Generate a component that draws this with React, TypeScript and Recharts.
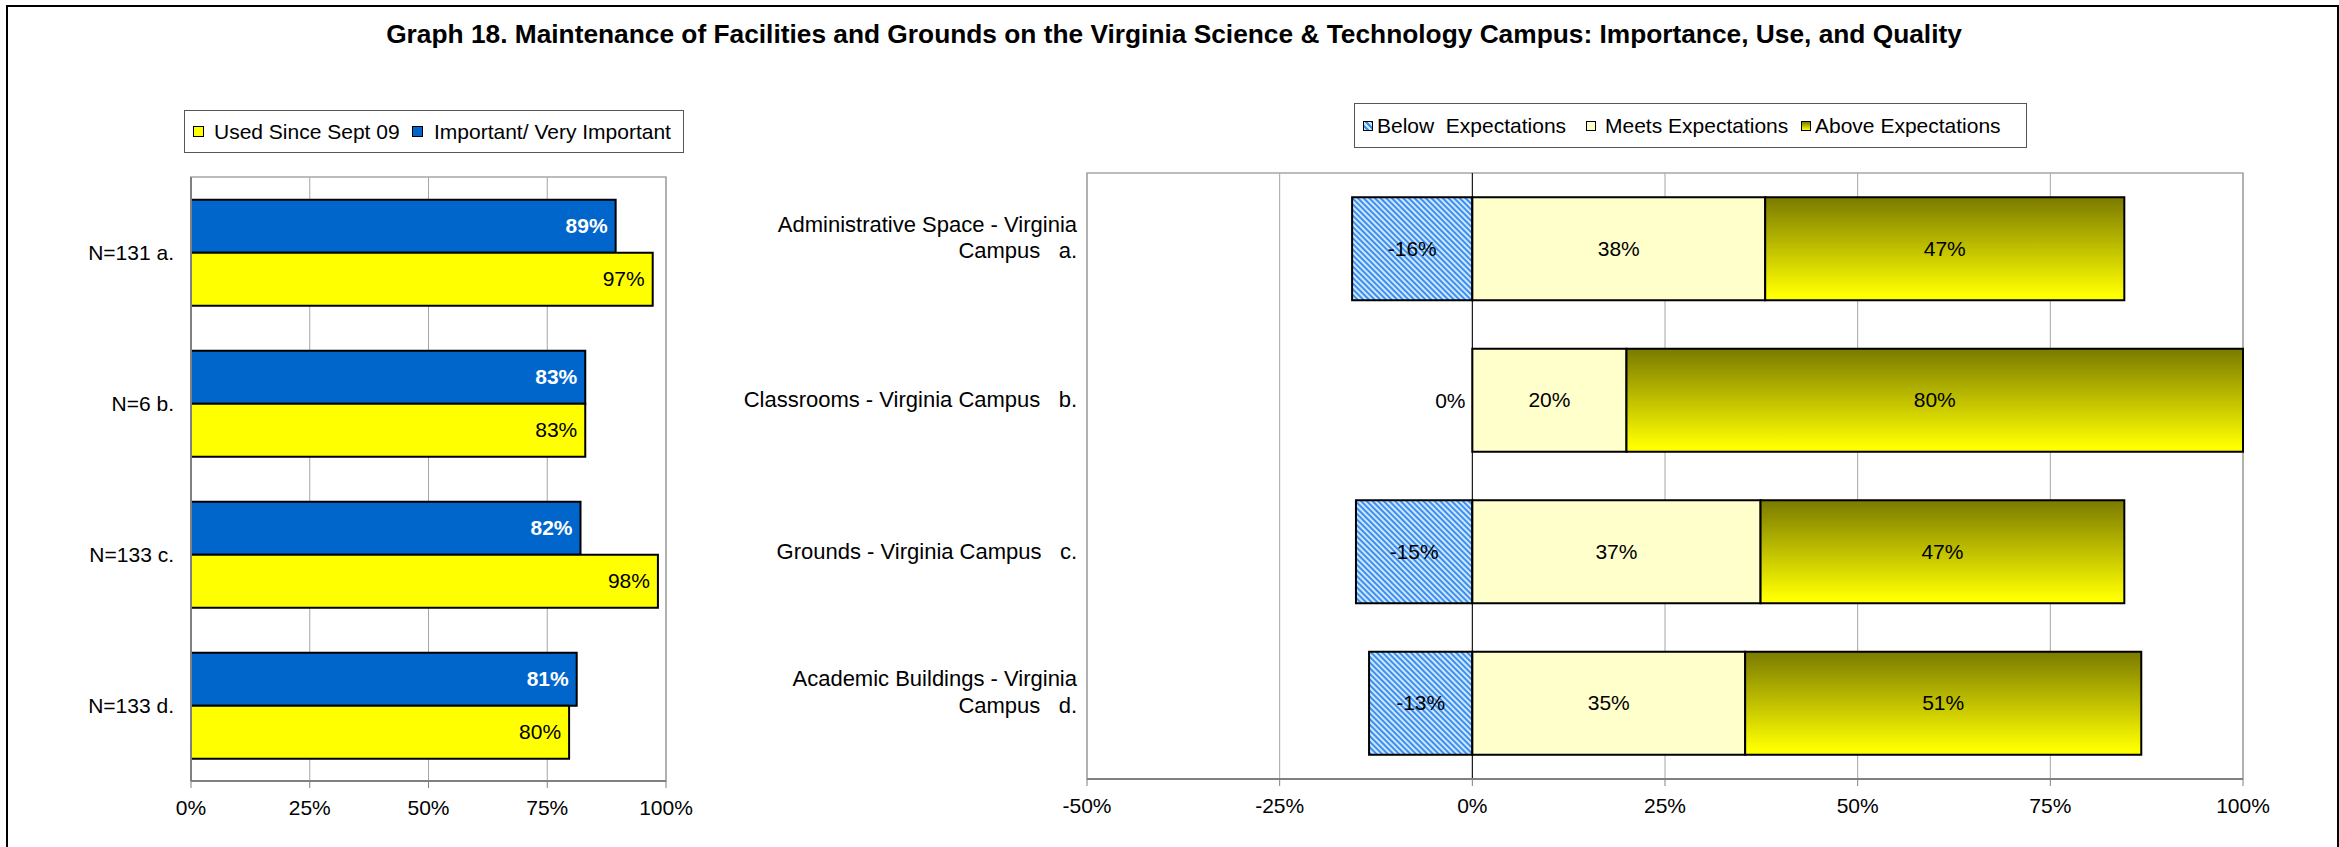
import { BarChart, Bar, XAxis, YAxis, CartesianGrid, LabelList, ReferenceLine, ReferenceArea } from 'recharts'

const FONT = '"Liberation Sans", Arial, sans-serif'

// Importance & use (left chart)
const useCategories = ['N=131 a.', 'N=6 b.', 'N=133 c.', 'N=133 d.']
const importantVeryImportant = [89.4, 83, 82, 81.2]
const usedSinceSept09 = [97.2, 83, 98.3, 79.6]
const useTicks = [0, 25, 50, 75, 100]

// Quality (right chart)
const qualityCategories = [
  'Administrative Space - Virginia\nCampus   a.',
  'Classrooms - Virginia Campus   b.',
  'Grounds - Virginia Campus   c.',
  'Academic Buildings - Virginia\nCampus   d.',
]
const belowExpectations = [-15.6, 0, -15.1, -13.4]
const meetsExpectations = [38, 20, 37.4, 35.4]
const aboveExpectations = [46.6, 80, 47.2, 51.4]
const qualityTicks = [-50, -25, 0, 25, 50, 75, 100]

const useData = useCategories.map((name, i) => ({
  name,
  important: importantVeryImportant[i],
  used: usedSinceSept09[i],
}))

const qualityData = qualityCategories.map((name, i) => ({
  name,
  below: belowExpectations[i],
  meets: meetsExpectations[i],
  above: aboveExpectations[i],
}))

const pct = (v: number) => `${Math.round(v)}%`

const XTick = ({ x, y, payload }: any) => (
  <text x={x} y={y + 27} textAnchor="middle" fontSize={21} fill="#000" fontFamily={FONT}>
    {pct(payload.value)}
  </text>
)

const UseYTick = ({ x, y, payload }: any) => (
  <text x={x - 17} y={y + 7} textAnchor="end" fontSize={21} fill="#000" fontFamily={FONT}>
    {payload.value}
  </text>
)

const QualityYTick = ({ x, y, payload }: any) => {
  const lines = String(payload.value).split('\n')
  const offsets = lines.length === 1 ? [7] : [-17, 9.5]
  return (
    <text textAnchor="end" fontSize={22} fill="#000" fontFamily={FONT} style={{ whiteSpace: 'pre' }}>
      {lines.map((l, i) => (
        <tspan key={i} x={x - 10} y={y + offsets[i]}>{l}</tspan>
      ))}
    </text>
  )
}

const endLabel = (color: string, bold: boolean) => (p: any) => {
  const { x, y, width, height, value } = p
  return (
    <text
      x={x + width - 8}
      y={y + height / 2 + 7}
      textAnchor="end"
      fontSize={21}
      fontWeight={bold ? 'bold' : 'normal'}
      fill={color}
      fontFamily={FONT}
    >
      {pct(value)}
    </text>
  )
}

const centerLabel = (p: any) => {
  const { x, y, width, height, value } = p
  if (value === 0) return null
  return (
    <text x={x + width / 2} y={y + height / 2 + 7} textAnchor="middle" fontSize={21} fill="#000" fontFamily={FONT}>
      {pct(value)}
    </text>
  )
}

// "below" rows with a zero value get their label drawn left of the zero line, like the original
const zeroLabel = (p: any) => {
  const { x, y, height, value } = p
  if (value !== 0) return null
  return (
    <text x={x - 22} y={y + height / 2 + 8} textAnchor="middle" fontSize={21} fill="#000" fontFamily={FONT}>
      {pct(value)}
    </text>
  )
}

const Swatch = ({ left, fill, size = 11 }: { left: number; fill: string; size?: number }) => (
  <div
    style={{
      position: 'absolute',
      left,
      top: '50%',
      width: size,
      height: size,
      marginTop: -size / 2,
      background: fill,
      border: '1.5px solid #000',
      boxSizing: 'border-box',
    }}
  />
)

const LegendText = ({ left, children }: { left: number; children: string }) => (
  <div
    style={{
      position: 'absolute',
      left,
      top: 0,
      height: '100%',
      display: 'flex',
      alignItems: 'center',
      fontSize: 21,
      whiteSpace: 'pre',
    }}
  >
    {children}
  </div>
)

export default function App() {
  return (
    <div
      style={{
        position: 'absolute',
        left: 0,
        top: 0,
        width: 2339,
        height: 847,
        background: '#fff',
        fontFamily: FONT,
        overflow: 'hidden',
      }}
    >
      <div
        style={{
          position: 'absolute',
          left: 6,
          top: 5,
          width: 2333,
          height: 880,
          border: '2px solid #000',
          boxSizing: 'border-box',
        }}
      />
      <div
        style={{
          position: 'absolute',
          left: 0,
          top: 21,
          width: 2348,
          textAlign: 'center',
          fontSize: 26.3,
          lineHeight: '26px',
          fontWeight: 'bold',
        }}
      >
        Graph 18. Maintenance of Facilities and Grounds on the Virginia Science &amp; Technology Campus: Importance, Use, and Quality
      </div>

      {/* left legend */}
      <div
        style={{
          position: 'absolute',
          left: 184,
          top: 110,
          width: 500,
          height: 43,
          border: '1px solid #555',
          boxSizing: 'border-box',
        }}
      >
        <Swatch left={8} fill="#FFFF00" />
        <LegendText left={29}>Used Since Sept 09</LegendText>
        <Swatch left={227} fill="#0066CC" />
        <LegendText left={249}>Important/ Very Important</LegendText>
      </div>

      {/* right legend */}
      <div
        style={{
          position: 'absolute',
          left: 1354,
          top: 103,
          width: 673,
          height: 45,
          border: '1px solid #555',
          boxSizing: 'border-box',
        }}
      >
        <div
          style={{
            position: 'absolute',
            left: 8,
            top: '50%',
            width: 10,
            height: 10,
            marginTop: -5,
            border: '1.5px solid #000',
            boxSizing: 'border-box',
            background: 'repeating-linear-gradient(45deg, #cfe8ff 0px, #cfe8ff 2px, #3d8fef 2px, #3d8fef 4px)',
          }}
        />
        <LegendText left={22}>Below  Expectations</LegendText>
        <Swatch left={231} fill="#FFFFCC" size={10} />
        <LegendText left={250}>Meets Expectations</LegendText>
        <Swatch left={446} fill="linear-gradient(#7d7d00, #ffff00)" size={10} />
        <LegendText left={460}>Above Expectations</LegendText>
      </div>

      {/* left chart */}
      <div style={{ position: 'absolute', left: 0, top: 0 }}>
        <BarChart
          width={720}
          height={847}
          data={useData}
          layout="vertical"
          margin={{ top: 177, right: 54, bottom: 0, left: 0 }}
          barCategoryGap="15%"
          barGap={0}
        >
          <CartesianGrid horizontal={false} vertical stroke="#a6a6a6" />
          <ReferenceArea x1={0} x2={100} fill="none" stroke="#a6a6a6" strokeWidth={1.5} ifOverflow="visible" />
          <XAxis
            type="number"
            domain={[0, 100]}
            ticks={useTicks}
            height={66}
            tickSize={7}
            tickMargin={0}
            axisLine={{ stroke: '#808080', strokeWidth: 2 }}
            tickLine={{ stroke: '#808080' }}
            tick={<XTick />}
          />
          <YAxis
            type="category"
            dataKey="name"
            width={191}
            tickSize={0}
            tickMargin={0}
            axisLine={{ stroke: '#808080', strokeWidth: 2 }}
            tickLine={false}
            tick={<UseYTick />}
            interval={0}
          />
          <Bar dataKey="important" fill="#0066CC" stroke="#000" strokeWidth={2} isAnimationActive={false}>
            <LabelList dataKey="important" content={endLabel('#fff', true)} />
          </Bar>
          <Bar dataKey="used" fill="#FFFF00" stroke="#000" strokeWidth={2} isAnimationActive={false}>
            <LabelList dataKey="used" content={endLabel('#000', false)} />
          </Bar>
        </BarChart>
      </div>

      {/* right chart */}
      <div style={{ position: 'absolute', left: 720, top: 0 }}>
        <BarChart
          width={1619}
          height={847}
          data={qualityData}
          layout="vertical"
          stackOffset="sign"
          margin={{ top: 173, right: 96, bottom: 2, left: 0 }}
          barCategoryGap="16%"
        >
          <defs>
            <pattern id="belowHatch" patternUnits="userSpaceOnUse" width="4" height="4" patternTransform="rotate(45)">
              <rect width="4" height="4" fill="#cfe8ff" />
              <rect width="4" height="2" fill="#3d8fef" />
            </pattern>
            <linearGradient id="aboveGrad" x1="0" y1="0" x2="0" y2="1">
              <stop offset="0" stopColor="#7a7a00" />
              <stop offset="0.95" stopColor="#ffff00" />
            </linearGradient>
          </defs>
          <CartesianGrid horizontal={false} vertical stroke="#a6a6a6" />
          <ReferenceArea x1={-50} x2={100} fill="none" stroke="#a6a6a6" strokeWidth={1.5} ifOverflow="visible" />
          <ReferenceLine x={0} stroke="#000" strokeWidth={1} />
          <XAxis
            type="number"
            domain={[-50, 100]}
            ticks={qualityTicks}
            height={66}
            tickSize={7}
            tickMargin={0}
            axisLine={{ stroke: '#808080', strokeWidth: 2 }}
            tickLine={{ stroke: '#808080' }}
            tick={<XTick />}
          />
          <YAxis
            type="category"
            dataKey="name"
            width={367}
            tickSize={0}
            tickMargin={0}
            axisLine={false}
            tickLine={false}
            tick={<QualityYTick />}
            interval={0}
          />
          <Bar dataKey="below" stackId="q" fill="url(#belowHatch)" stroke="#000" strokeWidth={2} isAnimationActive={false}>
            <LabelList dataKey="below" content={centerLabel} />
          </Bar>
          <Bar dataKey="meets" stackId="q" fill="#FFFFCC" stroke="#000" strokeWidth={2} isAnimationActive={false}>
            <LabelList dataKey="meets" content={centerLabel} />
            <LabelList dataKey="below" content={zeroLabel} />
          </Bar>
          <Bar dataKey="above" stackId="q" fill="url(#aboveGrad)" stroke="#000" strokeWidth={2} isAnimationActive={false}>
            <LabelList dataKey="above" content={centerLabel} />
          </Bar>
        </BarChart>
      </div>
    </div>
  )
}
